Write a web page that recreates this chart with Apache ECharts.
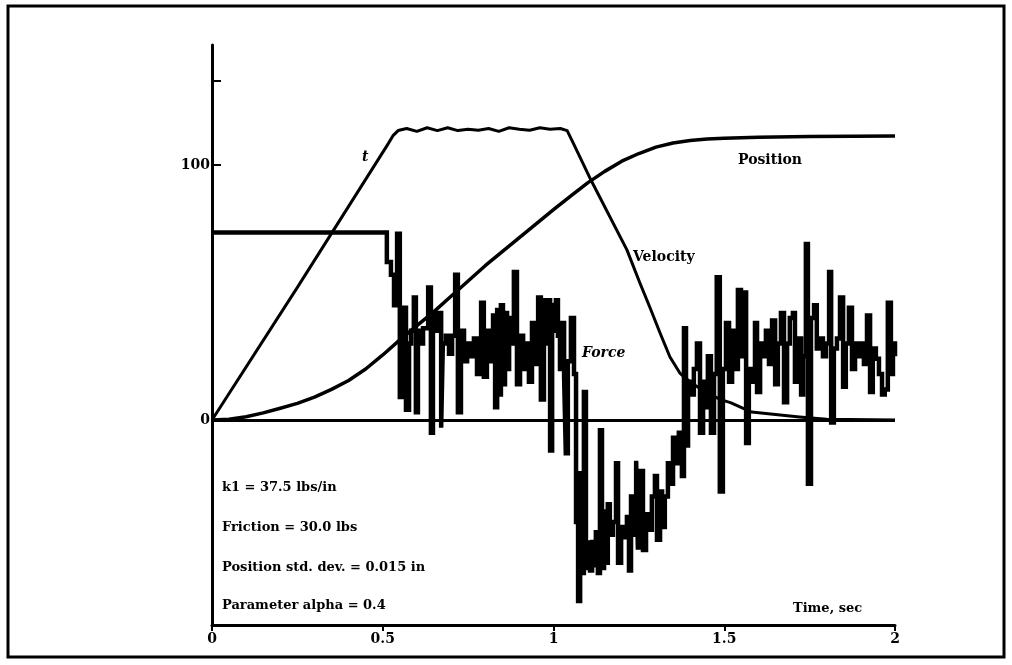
<!DOCTYPE html>
<html>
<head>
    <meta charset="utf-8">
    <title>Force / Velocity / Position</title>
    <script src="https://cdn.jsdelivr.net/npm/echarts@6/dist/echarts.min.js"></script>
    <style>
        html, body { margin: 0; padding: 0; background: #fff; }
        #chart { width: 1012px; height: 665px; }
    </style>
</head>
<body>
    <div id="chart"></div>
    <script>
        // time axis ticks
        var xTicks = [0, 0.5, 1, 1.5, 2];
        var yLabels = [0, 100];
        var yTicks = [0, 100, 133];

        // velocity
        var velT = [0, 0.25, 0.512, 0.53, 0.545, 0.57, 0.6, 0.63, 0.66, 0.69, 0.72, 0.75, 0.78, 0.81, 0.84, 0.87, 0.9, 0.93, 0.96, 0.99, 1.02, 1.04, 1.06, 1.11, 1.215, 1.253, 1.283, 1.312, 1.341, 1.37, 1.4, 1.45, 1.49, 1.52, 1.58, 1.72, 1.8, 2.0];
        var velV = [0, 52, 107.5, 111.5, 113.5, 114.3, 113.2, 114.6, 113.5, 114.6, 113.5, 114, 113.6, 114.3, 113.2, 114.6, 114, 113.6, 114.6, 114, 114.3, 113.5, 108, 94, 66.7, 53.7, 43.9, 34.1, 24.7, 18.4, 14.9, 10.5, 8, 6.7, 3.1, 1.2, 0.3, 0];

        // position
        var posT = [0, 0.05, 0.1, 0.15, 0.2, 0.25, 0.3, 0.35, 0.4, 0.45, 0.5, 0.55, 0.6, 0.65, 0.7, 0.75, 0.8, 0.85, 0.9, 0.95, 1.0, 1.05, 1.1, 1.15, 1.2, 1.25, 1.3, 1.35, 1.4, 1.45, 1.5, 1.6, 1.75, 2.0];
        var posV = [0, 0.3, 1.3, 2.8, 4.6, 6.5, 9, 12, 15.5, 20, 25.5, 31.4, 37, 42.5, 48.5, 54.5, 60.5, 66, 71.5, 77, 82.5, 87.8, 93, 97.5, 101.5, 104.5, 107, 108.6, 109.6, 110.2, 110.5, 110.9, 111.2, 111.4];

        // force (sample and hold)
        var forceT = [0, 0.512, 0.524, 0.533, 0.542, 0.550, 0.556, 0.562, 0.568, 0.577, 0.583, 0.591, 0.597, 0.603, 0.612, 0.618, 0.633, 0.641, 0.647, 0.656, 0.662, 0.671, 0.676, 0.685, 0.694, 0.703, 0.712, 0.720, 0.729, 0.738, 0.747, 0.755, 0.767, 0.776, 0.788, 0.796, 0.805, 0.814, 0.823, 0.829, 0.835, 0.840, 0.846, 0.852, 0.858, 0.864, 0.870, 0.876, 0.884, 0.893, 0.902, 0.911, 0.919, 0.928, 0.937, 0.946, 0.955, 0.963, 0.972, 0.978, 0.984, 0.990, 0.996, 1.001, 1.007, 1.013, 1.019, 1.025, 1.031, 1.036, 1.042, 1.051, 1.060, 1.066, 1.072, 1.078, 1.083, 1.089, 1.095, 1.101, 1.107, 1.113, 1.118, 1.124, 1.130, 1.136, 1.142, 1.148, 1.153, 1.159, 1.165, 1.174, 1.183, 1.189, 1.198, 1.206, 1.215, 1.221, 1.227, 1.236, 1.242, 1.247, 1.253, 1.262, 1.271, 1.280, 1.288, 1.297, 1.303, 1.312, 1.318, 1.326, 1.335, 1.341, 1.350, 1.359, 1.367, 1.376, 1.382, 1.388, 1.394, 1.402, 1.411, 1.420, 1.429, 1.438, 1.446, 1.452, 1.461, 1.470, 1.478, 1.487, 1.496, 1.505, 1.514, 1.523, 1.531, 1.540, 1.549, 1.558, 1.564, 1.572, 1.581, 1.590, 1.596, 1.605, 1.613, 1.622, 1.631, 1.640, 1.649, 1.657, 1.666, 1.675, 1.684, 1.692, 1.701, 1.707, 1.716, 1.725, 1.731, 1.739, 1.745, 1.754, 1.763, 1.771, 1.780, 1.789, 1.798, 1.807, 1.813, 1.821, 1.830, 1.839, 1.848, 1.856, 1.865, 1.874, 1.883, 1.891, 1.900, 1.909, 1.918, 1.927, 1.935, 1.944, 1.953, 1.962, 1.970, 1.979, 1.988, 1.994, 2.0];
        var forceV = [73.5, 62, 57, 45, 73, 9, 40, 44, 4, 30, 35, 48, 3, 35, 30, 36, 52, -5, 42, 35, 42, -3, 30, 33, 26, 33, 57, 3, 35, 23, 30, 25, 32, 18, 46, 17, 35, 23, 41, 5, 44, 10, 45, 14, 42, 20, 40, 30, 58, 14, 33, 20, 30, 15, 38, 22, 48, 8, 47, 30, 47, -12, 46, 35, 47, 33, 20, 38, 17, -13, 23, 40, 18, -40, -71, -20, -60, 11, -58, -48, -59, -47, -57, -44, -60, -4, -58, -35, -56, -33, -45, -40, -17, -56, -42, -46, -38, -59, -30, -45, -16, -50, -20, -51, -37, -43, -30, -22, -47, -28, -42, -30, -17, -25, -7, -17, -5, -22, 36, -10, 15, 10, 20, 30, -5, 15, 5, 25, -5, 18, 56, -28, 20, 38, 15, 35, 20, 51, 25, 50, -9, 20, 15, 38, 11, 30, 25, 35, 22, 39, 14, 30, 42, 7, 30, 40, 42, 15, 32, 10, 25, 69, -25, 40, 45, 28, 32, 25, 30, 58, -1, 28, 32, 48, 13, 30, 44, 20, 30, 25, 30, 22, 41, 11, 28, 24, 18, 10, 12, 46, 18, 30, 25];

        function pairs(t, v) {
            return t.map(function(x, i) { return [x, v[i]]; });
        }

        var font = '"DejaVu Serif", "Liberation Serif", serif';
        var chart = echarts.init(document.getElementById('chart'));
        chart.setOption({
            animation: false,
            backgroundColor: '#fff',
            grid: { left: 212, right: 117, top: 45, bottom: 40 },
            xAxis: {
                type: 'value',
                min: 0,
                max: 2,
                interval: 0.5,
                axisLine: { onZero: false, lineStyle: { color: '#000', width: 3 } },
                axisTick: { show: true, length: 6, lineStyle: { color: '#000', width: 2 } },
                axisLabel: { color: '#000', fontFamily: font, fontWeight: 'bold', fontSize: 14, margin: 7,
                    formatter: function(v) { return xTicks.indexOf(v) >= 0 ? String(v) : ''; } },
                splitLine: { show: false }
            },
            yAxis: {
                type: 'value',
                min: -80.4,
                max: 147.06,
                axisLine: { show: true, onZero: false, lineStyle: { color: '#000', width: 3 } },
                axisTick: { show: true, inside: true, length: 9, customValues: yTicks, lineStyle: { color: '#000', width: 2 } },
                axisLabel: { color: '#000', fontFamily: font, fontWeight: 'bold', fontSize: 14, margin: 2, customValues: yLabels },
                splitLine: { show: false }
            },
            series: [{
                name: 'Force',
                type: 'line',
                step: 'end',
                symbol: 'none',
                data: pairs(forceT, forceV),
                lineStyle: { color: '#000', width: 4.5, join: 'miter', cap: 'butt' },
                markLine: {
                    silent: true,
                    symbol: 'none',
                    label: { show: false },
                    lineStyle: { color: '#000', width: 3, type: 'solid' },
                    data: [{ yAxis: 0 }]
                }
            }, {
                name: 'Velocity',
                type: 'line',
                symbol: 'none',
                data: pairs(velT, velV),
                lineStyle: { color: '#000', width: 3, join: 'round' }
            }, {
                name: 'Position',
                type: 'line',
                symbol: 'none',
                data: pairs(posT, posV),
                lineStyle: { color: '#000', width: 3.5, join: 'round' }
            }],
            graphic: [
                { type: 'rect', shape: { x: 8, y: 6, width: 996, height: 651 }, style: { fill: 'none', stroke: '#000', lineWidth: 3 } },
                { type: 'text', left: 738, top: 153, style: { text: 'Position', font: 'bold 14px ' + font, fill: '#000' } },
                { type: 'text', left: 633, top: 250, style: { text: 'Velocity', font: 'bold 14px ' + font, fill: '#000' } },
                { type: 'text', left: 582, top: 346, style: { text: 'Force', font: 'italic bold 14px ' + font, fill: '#000' } },
                { type: 'text', left: 362, top: 150, style: { text: 't', font: 'italic bold 14px ' + font, fill: '#000' } },
                { type: 'text', left: 222, top: 481, style: { text: 'k1 = 37.5 lbs/in', font: 'bold 13px ' + font, fill: '#000' } },
                { type: 'text', left: 222, top: 521, style: { text: 'Friction = 30.0 lbs', font: 'bold 13px ' + font, fill: '#000' } },
                { type: 'text', left: 222, top: 561, style: { text: 'Position std. dev. = 0.015 in', font: 'bold 13px ' + font, fill: '#000' } },
                { type: 'text', left: 222, top: 599, style: { text: 'Parameter alpha = 0.4', font: 'bold 13px ' + font, fill: '#000' } },
                { type: 'text', left: 793, top: 602, style: { text: 'Time, sec', font: 'bold 13px ' + font, fill: '#000' } }
            ]
        });
    </script>
</body>
</html>
